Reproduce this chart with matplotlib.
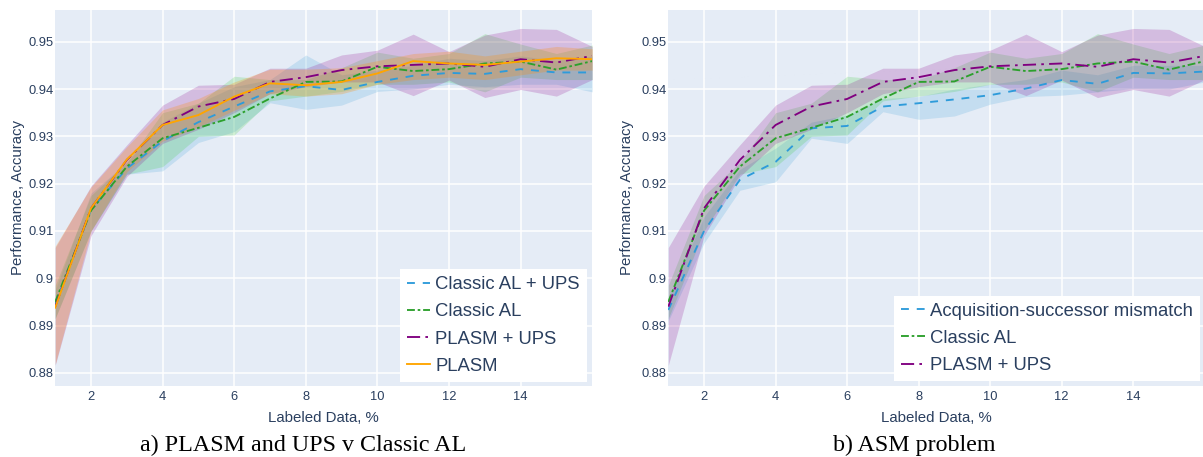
import numpy as np
import matplotlib
matplotlib.use("Agg")
import matplotlib.pyplot as plt

# ---------------- data ----------------
labeled = [1, 2, 3, 4, 5, 6, 7, 8, 9, 10, 11, 12, 13, 14, 15, 16]

classic_al = [0.8950, 0.9143, 0.9236, 0.9296, 0.9318, 0.9341, 0.9380, 0.9415,
              0.9416, 0.9447, 0.9438, 0.9442, 0.9454, 0.9458, 0.9441, 0.9459]
classic_al_lo = [0.8915, 0.9100, 0.9220, 0.9236, 0.9300, 0.9303, 0.9375, 0.9385,
                 0.9395, 0.9410, 0.9410, 0.9415, 0.9394, 0.9425, 0.9420, 0.9420]
classic_al_hi = [0.8985, 0.9175, 0.9245, 0.9350, 0.9370, 0.9427, 0.9420, 0.9420,
                 0.9445, 0.9478, 0.9465, 0.9475, 0.9517, 0.9495, 0.9475, 0.9493]

plasm_ups = [0.8940, 0.9148, 0.9250, 0.9324, 0.9363, 0.9379, 0.9415, 0.9425,
             0.9440, 0.9448, 0.9451, 0.9454, 0.9447, 0.9463, 0.9456, 0.9470]
plasm_ups_lo = [0.8816, 0.9090, 0.9215, 0.9285, 0.9315, 0.9350, 0.9390, 0.9405,
                0.9415, 0.9415, 0.9386, 0.9419, 0.9382, 0.9399, 0.9385, 0.9420]
plasm_ups_hi = [0.9065, 0.9195, 0.9282, 0.9366, 0.9408, 0.9410, 0.9444, 0.9444,
                0.9472, 0.9482, 0.9516, 0.9479, 0.9514, 0.9528, 0.9526, 0.9490]

classic_al_ups = [0.8945, 0.9145, 0.9232, 0.9290, 0.9330, 0.9363, 0.9395, 0.9406,
                  0.9398, 0.9415, 0.9428, 0.9434, 0.9432, 0.9442, 0.9435, 0.9435]
classic_al_ups_lo = [0.8915, 0.9100, 0.9220, 0.9227, 0.9287, 0.9310, 0.9371, 0.9357,
                     0.9366, 0.9395, 0.9400, 0.9410, 0.9405, 0.9410, 0.9410, 0.9394]
classic_al_ups_hi = [0.8975, 0.9180, 0.9245, 0.9330, 0.9370, 0.9405, 0.9420, 0.9472,
                     0.9430, 0.9440, 0.9450, 0.9465, 0.9460, 0.9470, 0.9460, 0.9470]

plasm = [0.8938, 0.9148, 0.9251, 0.9324, 0.9345, 0.9384, 0.9412, 0.9408,
         0.9415, 0.9433, 0.9459, 0.9454, 0.9451, 0.9458, 0.9465, 0.9463]
plasm_lo = [0.8818, 0.9100, 0.9225, 0.9290, 0.9320, 0.9355, 0.9390, 0.9385,
            0.9390, 0.9410, 0.9420, 0.9425, 0.9420, 0.9430, 0.9440, 0.9440]
plasm_hi = [0.9068, 0.9193, 0.9278, 0.9356, 0.9380, 0.9415, 0.9442, 0.9442,
            0.9445, 0.9460, 0.9475, 0.9480, 0.9470, 0.9480, 0.9490, 0.9485]

asm = [0.8933, 0.9100, 0.9208, 0.9246, 0.9317, 0.9322, 0.9363, 0.9370,
       0.9378, 0.9387, 0.9401, 0.9419, 0.9411, 0.9434, 0.9433, 0.9437]
asm_lo = [0.8910, 0.9075, 0.9186, 0.9204, 0.9296, 0.9285, 0.9352, 0.9336,
          0.9343, 0.9368, 0.9384, 0.9387, 0.9394, 0.9401, 0.9400, 0.9415]
asm_hi = [0.8958, 0.9130, 0.9230, 0.9275, 0.9330, 0.9345, 0.9380, 0.9384,
          0.9400, 0.9410, 0.9420, 0.9440, 0.9430, 0.9450, 0.9450, 0.9450]

x_ticks = [2, 4, 6, 8, 10, 12, 14]
y_ticks = [0.88, 0.89, 0.90, 0.91, 0.92, 0.93, 0.94, 0.95]
y_tick_labels = ["0.88", "0.89", "0.9", "0.91", "0.92", "0.93", "0.94", "0.95"]

# ---------------- style ----------------
W, H = 1203, 457
DPI = 100
BG = "#E5ECF6"
TXT = "#2a3f5f"
FONT = ["Liberation Sans", "DejaVu Sans"]
SERIF = ["Liberation Serif", "DejaVu Serif"]

BLUE = "#2E9BDA"
GREEN = "#2ca02c"
PURPLE = "#800080"
ORANGE = "#FFA500"
LW = 1.35
DASH = (0, (4.2, 4.2))
DASHDOT = (0, (4.2, 1.5, 1.4, 1.5))
LONGDASHDOT = (0, (7.0, 2.8, 1.4, 2.8))

plt.rcParams["font.family"] = FONT

fig = plt.figure(figsize=(W / DPI, H / DPI), dpi=DPI)


def px_axes(x0, x1, y0, y1):
    return fig.add_axes([x0 / W, 1 - y1 / H, (x1 - x0) / W, (y1 - y0) / H])


def style(ax, x0, x1, ylab_off):
    ax.set_facecolor(BG)
    for s in ax.spines.values():
        s.set_visible(False)
    ax.set_xlim(1, 16)
    ax.set_ylim(0.8773, 0.9567)
    ax.set_xticks(x_ticks)
    ax.set_xticklabels([str(t) for t in x_ticks])
    ax.set_yticks(y_ticks)
    ax.set_yticklabels(y_tick_labels)
    ax.grid(True, color="white", linewidth=1.1)
    ax.set_axisbelow(True)
    ax.tick_params(axis="x", length=0, pad=3.8, labelsize=9.3, labelcolor=TXT)
    ax.tick_params(axis="y", length=0, pad=1.2, labelsize=9.3, labelcolor=TXT)
    ax.set_xlabel("Labeled Data, %", fontsize=10.8, color=TXT)
    ax.set_ylabel("Performance, Accuracy", fontsize=10.8, color=TXT)
    ax.xaxis.label.set_va("center")
    ax.yaxis.label.set_va("center")
    ax.xaxis.set_label_coords(0.5, -(417.5 - 385.7) / 375.7)
    ax.yaxis.set_label_coords(-ylab_off / (x1 - x0), 0.5)


def band(ax, lo, hi, color, alpha=0.2):
    ax.fill_between(labeled, lo, hi, color=color, alpha=alpha, linewidth=0)


def legend(ax, right_off):
    leg = ax.legend(loc="lower right", bbox_to_anchor=right_off,
                    fontsize=13.3, frameon=True, fancybox=False, framealpha=1,
                    edgecolor="white", facecolor="white", handlelength=1.25,
                    handletextpad=0.3, labelspacing=0.55, borderpad=0.38,
                    borderaxespad=0.0)
    for t in leg.get_texts():
        t.set_color(TXT)
    leg.get_frame().set_linewidth(0)


# ---------------- left panel ----------------
L0, L1 = 55.2, 592.2
ax1 = px_axes(L0, L1, 10, 385.7)
style(ax1, L0, L1, 37.5)
band(ax1, classic_al_ups_lo, classic_al_ups_hi, "#40A1D8")
band(ax1, classic_al_lo, classic_al_hi, "#36C933")
band(ax1, plasm_ups_lo, plasm_ups_hi, "#8B0088")
band(ax1, plasm_lo, plasm_hi, "#FF8C00", alpha=0.25)
ax1.plot(labeled, classic_al_ups, color=BLUE, lw=LW, linestyle=DASH, label="Classic AL + UPS")
ax1.plot(labeled, classic_al, color=GREEN, lw=LW, linestyle=DASHDOT, label="Classic AL")
ax1.plot(labeled, plasm_ups, color=PURPLE, lw=LW, linestyle=LONGDASHDOT, label="PLASM + UPS")
ax1.plot(labeled, plasm, color=ORANGE, lw=LW, linestyle="-", label="PLASM")
legend(ax1, (1 - 5.5 / (L1 - L0), 4 / 375.7))

# ---------------- right panel ----------------
R0, R1 = 668.3, 1204.8
ax2 = px_axes(R0, R1, 10, 385.7)
style(ax2, R0, R1, 40.8)
band(ax2, asm_lo, asm_hi, "#40A1D8")
band(ax2, classic_al_lo, classic_al_hi, "#36C933")
band(ax2, plasm_ups_lo, plasm_ups_hi, "#8B0088")
ax2.plot(labeled, asm, color=BLUE, lw=LW, linestyle=DASH, label="Acquisition-successor mismatch")
ax2.plot(labeled, classic_al, color=GREEN, lw=LW, linestyle=DASHDOT, label="Classic AL")
ax2.plot(labeled, plasm_ups, color=PURPLE, lw=LW, linestyle=LONGDASHDOT, label="PLASM + UPS")
legend(ax2, (1 - 4.8 / (R1 - R0), 4.7 / 375.7))

# ---------------- captions ----------------
fig.text(303 / W, 1 - 451.5 / H, "a) PLASM and UPS v Classic AL", family=SERIF,
         fontsize=17.3, ha="center", va="baseline", color="black")
fig.text(914.7 / W, 1 - 451.5 / H, "b) ASM problem", family=SERIF,
         fontsize=17.3, ha="center", va="baseline", color="black")

fig.savefig("out.png", dpi=DPI)
